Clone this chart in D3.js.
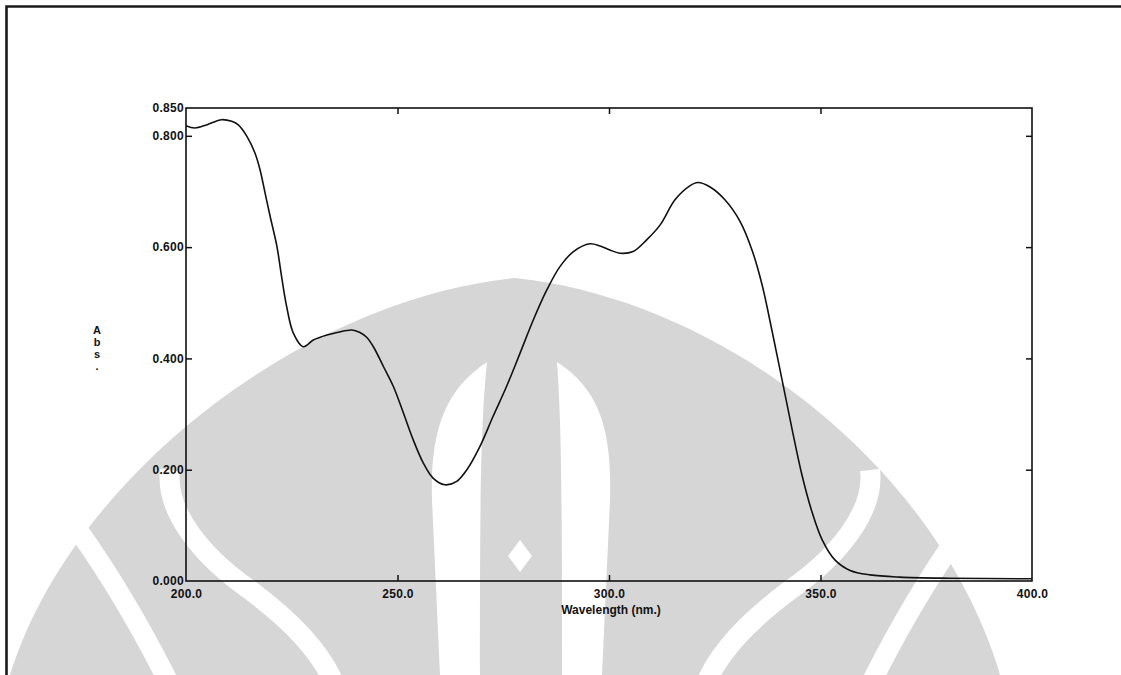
<!DOCTYPE html>
<html>
<head>
<meta charset="utf-8">
<script src="https://cdn.jsdelivr.net/npm/d3@7"></script>
<style>
  html, body { margin: 0; padding: 0; background: #fff; }
  svg { display: block; }
  text { font-family: "Liberation Sans", Arial, sans-serif; fill: #111; }
</style>
</head>
<body>
<svg id="chart" width="1121" height="675"></svg>
<script>
// UV-Vis absorption spectrum, 200-400 nm
const wavelength = [200, 202.1, 205, 208.4, 210.8, 212.3, 214.4, 216.3, 217.5, 218.7, 219.9,
  221.5, 222.6, 223.8, 225.4, 227.7, 230.1, 233.3, 236, 239.2, 241, 242.7, 244.3, 246.7,
  249, 251.4, 253.7, 256.1, 258.4, 261.2, 264, 266.4, 269.5, 272.6, 275.8, 279, 282.1,
  285.3, 288.4, 291.6, 295.5, 297.9, 300.5, 302.6, 305.7, 308.9, 312.1, 315.6, 319.1,
  321, 323.9, 327.4, 331, 333.8, 336.2, 338.5, 340.9, 343.3, 345.6, 348, 350.4, 353.4,
  357, 361.7, 368.8, 380.6, 400];
const absorbance = [0.818, 0.814, 0.820, 0.829, 0.826, 0.820, 0.799, 0.769, 0.739, 0.697, 0.655,
  0.601, 0.547, 0.493, 0.445, 0.421, 0.433, 0.442, 0.447, 0.451, 0.447, 0.438, 0.421, 0.385,
  0.350, 0.302, 0.254, 0.212, 0.185, 0.173, 0.179, 0.200, 0.242, 0.296, 0.350, 0.410, 0.469,
  0.523, 0.565, 0.592, 0.606, 0.602, 0.594, 0.589, 0.592, 0.613, 0.640, 0.685, 0.710,
  0.716, 0.708, 0.685, 0.646, 0.595, 0.532, 0.451, 0.362, 0.272, 0.191, 0.124, 0.074, 0.038,
  0.019, 0.011, 0.007, 0.005, 0.004];

const yTicks = [0, 0.2, 0.4, 0.6, 0.8, 0.85];
const yInnerTicks = [0.2, 0.4, 0.6, 0.8];
const xTicks = [200, 250, 300, 350, 400];
const xInnerTicks = [250, 300, 350];
const xTitle = "Wavelength (nm.)";
const yTitle = ["A", "b", "s", "."];

const svg = d3.select("#chart");
const W = 1121, H = 675;
const plot = { left: 186, right: 1032, top: 108, bottom: 581 };

svg.append("rect").attr("width", W).attr("height", H).attr("fill", "#fff");

// faint background emblem printed on the page
const cx = 520;
const wm = svg.append("g");
wm.append("path").attr("fill", "#d6d6d6").attr("d",
  `M 10 ${H} C 70 480 300 300 ${cx - 5} 278 C 725 300 940 470 1000 ${H} Z`);
// white bands curling in toward the base
const band = wm.append("g").attr("fill", "none").attr("stroke", "#fff").attr("stroke-width", 20);
const mirror = s => s.replace(/(-?\d+(\.\d+)?) (-?\d+(\.\d+)?)/g, (m, a, _, b) => `${2 * cx - +a} ${b}`);
const outerBand = `M 78 530 C 110 575 140 625 170 ${H + 10}`;
const innerBand = `M 170 470 C 165 510 200 555 250 590 C 290 620 320 650 335 ${H + 10}`;
[outerBand, innerBand].forEach(d => {
  band.append("path").attr("d", d);
  band.append("path").attr("d", mirror(d));
});
// central lenses and diamond
const wl = wm.append("g").attr("fill", "#fff");
wl.append("path").attr("d", `M ${cx - 33} 362 C ${cx - 75} 390 ${cx - 90} 430 ${cx - 88} 500 L ${cx - 80} ${H} L ${cx - 40} ${H} C ${cx - 40} 520 ${cx - 40} 430 ${cx - 33} 362 Z`);
wl.append("path").attr("d", `M ${cx + 37} 362 C ${cx + 80} 390 ${cx + 92} 430 ${cx + 90} 500 L ${cx + 82} ${H} L ${cx + 42} ${H} C ${cx + 42} 520 ${cx + 42} 430 ${cx + 37} 362 Z`);
wl.append("path").attr("d", `M ${cx} 540 L ${cx + 12} 556 L ${cx} 572 L ${cx - 12} 556 Z`);

// page border
svg.append("path").attr("d", `M 6.5 ${H} L 6.5 6.5 L ${W} 6.5`)
  .attr("fill", "none").attr("stroke", "#1a1a1a").attr("stroke-width", 2.6);

const x = d3.scaleLinear().domain([200, 400]).range([plot.left, plot.right]);
const y = d3.scaleLinear().domain([0, 0.85]).range([plot.bottom, plot.top]);

// plot frame
svg.append("rect")
  .attr("x", plot.left).attr("y", plot.top)
  .attr("width", plot.right - plot.left).attr("height", plot.bottom - plot.top)
  .attr("fill", "none").attr("stroke", "#111").attr("stroke-width", 1.6);

const fmt = d3.format(".3f");
const styleAxis = g => {
  g.select(".domain").remove();
  g.selectAll("line").attr("stroke", "#111").attr("stroke-width", 1.5);
  g.selectAll("text").attr("font-size", 12).attr("font-weight", "bold")
    .attr("letter-spacing", 0.3)
    .attr("fill", "#111").style("font-family", "'Liberation Sans', Arial, sans-serif");
};

// left axis: labels right up against the frame, ticks pointing inward
svg.append("g").attr("transform", `translate(${plot.left},0)`)
  .call(d3.axisLeft(y).tickValues(yTicks).tickFormat(fmt).tickSize(-6).tickPadding(2))
  .call(styleAxis)
  .call(g => g.selectAll(".tick").filter(d => d === 0 || d === 0.85).select("line").remove());

// right axis ticks
svg.append("g").attr("transform", `translate(${plot.right},0)`)
  .call(d3.axisRight(y).tickValues(yInnerTicks).tickFormat("").tickSize(-6))
  .call(styleAxis);

// bottom axis
svg.append("g").attr("transform", `translate(0,${plot.bottom})`)
  .call(d3.axisBottom(x).tickValues(xTicks).tickFormat(d3.format(".1f")).tickSize(0).tickPadding(8))
  .call(styleAxis);
svg.append("g").attr("transform", `translate(0,${plot.bottom})`)
  .call(d3.axisBottom(x).tickValues(xInnerTicks).tickFormat("").tickSize(-6))
  .call(styleAxis);

// top axis ticks
svg.append("g").attr("transform", `translate(0,${plot.top})`)
  .call(d3.axisTop(x).tickValues(xInnerTicks).tickFormat("").tickSize(-6))
  .call(styleAxis);

// axis titles
svg.append("text").attr("x", (x(300) + 2)).attr("y", 614)
  .attr("text-anchor", "middle").attr("font-size", 12).attr("font-weight", "bold")
  .text(xTitle);
svg.append("g").selectAll("text").data(yTitle).join("text")
  .attr("x", 97).attr("y", (d, i) => 334 + i * 12)
  .attr("text-anchor", "middle").attr("font-size", 11).attr("font-weight", "bold")
  .text(d => d);

// spectrum trace
const pts = wavelength.map((w, i) => [w, absorbance[i]]);
svg.append("path").datum(pts)
  .attr("fill", "none").attr("stroke", "#111").attr("stroke-width", 1.6)
  .attr("stroke-linejoin", "round")
  .attr("d", d3.line().x(d => x(d[0])).y(d => y(d[1])).curve(d3.curveCatmullRom.alpha(0.5)));
</script>
</body>
</html>
